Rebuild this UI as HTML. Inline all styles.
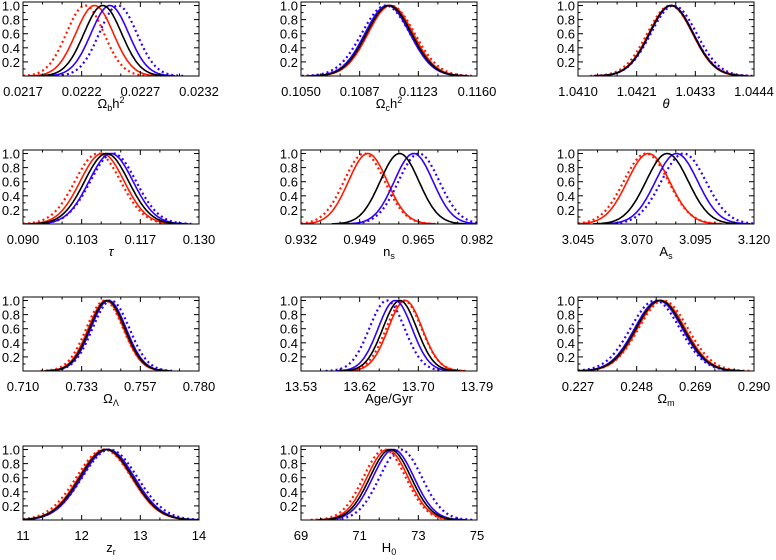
<!DOCTYPE html>
<html><head><meta charset="utf-8"><style>
html,body{margin:0;padding:0;background:#fff;}
svg{display:block;font-family:"Liberation Sans",sans-serif;}
</style></head><body>
<svg id="chart" width="776" height="560" xmlns="http://www.w3.org/2000/svg"></svg>
<script>
// Parameter panel data
const panelNames = ["omega-b","omega-c","theta","tau","n-s","a-s","omega-lambda","age","omega-m","z-r","h0"];
const axisLabels = ["Ω<tspan font-size='9' dy='3'>b</tspan><tspan dy='-3'>h</tspan><tspan font-size='9' dy='-5'>2</tspan>",
 "Ω<tspan font-size='9' dy='3'>c</tspan><tspan dy='-3'>h</tspan><tspan font-size='9' dy='-5'>2</tspan>",
 "<tspan font-style='italic'>θ</tspan>","<tspan font-style='italic'>τ</tspan>",
 "n<tspan font-size='9' dy='3'>s</tspan>","A<tspan font-size='9' dy='3'>s</tspan>",
 "Ω<tspan font-size='9' dy='3'>Λ</tspan>","Age/Gyr","Ω<tspan font-size='9' dy='3'>m</tspan>",
 "z<tspan font-size='9' dy='3'>r</tspan>","H<tspan font-size='9' dy='3'>0</tspan>"];
const xMin = [0.0217,0.1050,1.0410,0.090,0.932,3.045,0.710,13.53,0.227,11,69];
const xMax = [0.0232,0.1160,1.0444,0.130,0.982,3.120,0.780,13.79,0.290,14,75];
const tickLabels = [["0.0217","0.0222","0.0227","0.0232"],["0.1050","0.1087","0.1123","0.1160"],
 ["1.0410","1.0421","1.0433","1.0444"],["0.090","0.103","0.117","0.130"],["0.932","0.949","0.965","0.982"],
 ["3.045","3.070","3.095","3.120"],["0.710","0.733","0.757","0.780"],["13.53","13.62","13.70","13.79"],
 ["0.227","0.248","0.269","0.290"],["11","12","13","14"],["69","71","73","75"]];
// Gaussian means per series (red dotted, red solid, black, blue solid, blue dotted)
const meanRedDot  = [0.02223,0.1106,1.04278,0.1070,0.9500,3.074,0.7425,13.682,0.2575,12.38,71.85];
const meanRed     = [0.02231,0.1106,1.04279,0.1080,0.9510,3.075,0.7430,13.684,0.2568,12.40,71.95];
const meanBlack   = [0.02238,0.1105,1.04280,0.1090,0.9600,3.083,0.7435,13.676,0.2563,12.42,72.05];
const meanBlue    = [0.02244,0.1104,1.04281,0.1100,0.9640,3.087,0.7440,13.669,0.2558,12.45,72.15];
const meanBlueDot = [0.02251,0.1103,1.04285,0.1105,0.9655,3.090,0.7450,13.657,0.2546,12.48,72.40];
const sigma       = [0.00016,0.0014,0.00042,0.0050,0.0055,0.0090,0.0070,0.025,0.0085,0.45,0.70];
const sigmaDot    = [0.00016,0.0015,0.00044,0.0052,0.0058,0.0095,0.0073,0.026,0.0088,0.47,0.72];
const yTicks = [0.2,0.4,0.6,0.8,1.0];

const NS="http://www.w3.org/2000/svg";
const svg=document.getElementById('chart');
const colLeft=[23,301,578], rowTop=[2,150,297,446], W=176, H=74, YMAX=1.05;
function el(tag,attrs,parent){const e=document.createElementNS(NS,tag);for(const k in attrs)e.setAttribute(k,attrs[k]);(parent||svg).appendChild(e);return e;}
const series=[
 {m:meanRedDot,s:sigmaDot,c:"#ff1a00",d:"2,3",n:"red-dotted-curve"},
 {m:meanBlueDot,s:sigmaDot,c:"#3300ff",d:"2,3",n:"blue-dotted-curve"},
 {m:meanRed,s:sigma,c:"#ff1a00",d:"",n:"red-solid-curve"},
 {m:meanBlue,s:sigma,c:"#3300ff",d:"",n:"blue-solid-curve"},
 {m:meanBlack,s:sigma,c:"#000",d:"",n:"black-solid-curve"}];
for(let i=0;i<panelNames.length;i++){
  const L=colLeft[i%3],T=rowTop[Math.floor(i/3)];
  const g=el('g',{});
  
  
  const xs=v=>L+(v-xMin[i])/(xMax[i]-xMin[i])*W;
  const ys=v=>T+H-v/YMAX*H;
  const clip=el('clipPath',{id:'c'+i},g);el('rect',{x:L,y:T,width:W,height:H},clip);
  for(const s of series){
    let pts=[];
    for(let k=0;k<=200;k++){const x=xMin[i]+(xMax[i]-xMin[i])*k/200;const z=(x-s.m[i])/s.s[i];const y=Math.exp(-0.5*z*z);if(y<0.002)continue;pts.push(xs(x).toFixed(1)+','+ys(y).toFixed(1));}
    const p=el('polyline',{points:pts.join(' '),fill:'none',stroke:s.c,'stroke-width':s.d?2.2:1.6,'stroke-dasharray':s.d,'clip-path':'url(#c'+i+')'},g);
    
    
  }
  const fr=el('rect',{x:L,y:T,width:W,height:H,fill:'none',stroke:'#000','stroke-width':1},g);
  
  
  for(let k=0;k<=9;k++){const x=L+W*k/9;const len=(k%3===0)?5:2.5;
    el('line',{x1:x,y1:T+H,x2:x,y2:T+H-len,stroke:'#000'},g);el('line',{x1:x,y1:T,x2:x,y2:T+len,stroke:'#000'},g);}
  tickLabels[i].forEach((t,k)=>{const tx=el('text',{x:L+W*k/3,y:T+H+20,'text-anchor':'middle','font-size':13},g);tx.textContent=t;
    
    });
  for(let v=0.1;v<1.05;v+=0.1){const y=ys(v);const major=Math.abs((v*10)%2)<0.01||Math.abs((v*10)%2-2)<0.01;const len=major?5:2.5;
    el('line',{x1:L,y1:y,x2:L+len,y2:y,stroke:'#000'},g);el('line',{x1:L+W,y1:y,x2:L+W-len,y2:y,stroke:'#000'},g);}
  yTicks.forEach(v=>{const ty=el('text',{x:L-3,y:ys(v)+5,'text-anchor':'end','font-size':13},g);ty.textContent=v.toFixed(1);
    
    });
  const al=el('text',{x:L+W/2,y:T+H+32,'text-anchor':'middle','font-size':13},g);al.innerHTML=axisLabels[i];
  
  
}
</script>
</body></html>
